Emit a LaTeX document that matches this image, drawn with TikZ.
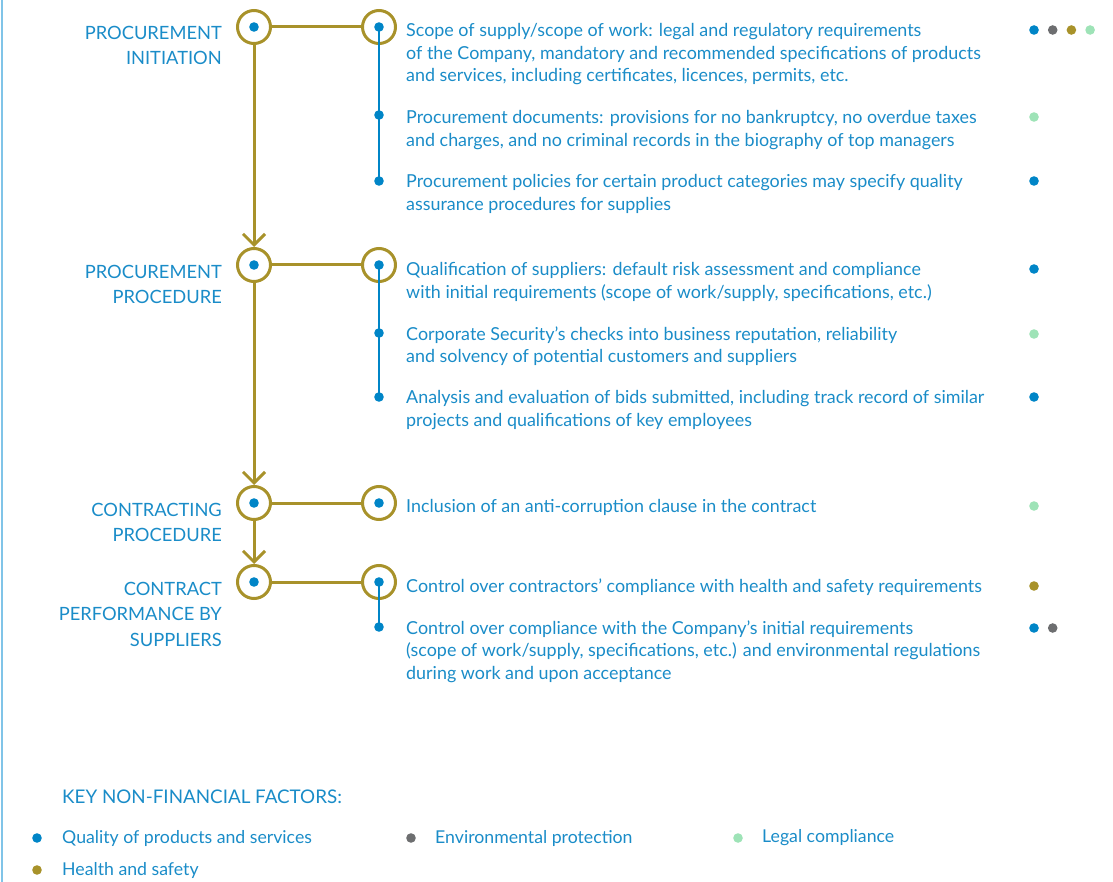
\documentclass[tikz,border=0pt]{standalone}
\usepackage{fontspec}
\setmainfont{Lato}
\usepackage{xcolor}
\usetikzlibrary{positioning,arrows.meta}
\definecolor{pblue}{HTML}{1A8CC8}
\definecolor{pdot}{HTML}{0085C7}
\definecolor{pgold}{HTML}{A8922A}
\definecolor{pgrey}{HTML}{6D6E70}
\definecolor{pgreen}{HTML}{9EE3B7}
\definecolor{pedge}{HTML}{80C4E8}
\tikzset{
  stage/.style={circle,draw=pgold,line width=3pt,minimum size=33pt,inner sep=0pt},
  stagetext/.style={anchor=north east,align=right,text=pblue,inner sep=0pt,
    font=\fontsize{18.3}{25.3}\selectfont},
  itemtext/.style={anchor=north west,align=left,text=pblue,inner sep=0pt,
    font=\fontsize{17.9}{22.5}\selectfont},
  keytext/.style={anchor=west,text=pblue,inner sep=0pt,font=\fontsize{17.7}{20}\selectfont},
  goldline/.style={draw=pgold,line width=3pt},
  goldarrow/.style={goldline,-{Straight Barb[length=11pt,width=22pt,line width=3pt]}},
  blueline/.style={draw=pdot,line width=2.4pt}
}
\begin{document}
\begin{tikzpicture}[x=1pt,y=-1pt]
\useasboundingbox (0,0) rectangle (1113,882);
\draw[pedge,line width=2pt] (2,0) -- (2,882);

\node[stage] (s1) at (254,27) {};
\node[stage] (s2) at (254,265) {};
\node[stage] (s3) at (254,503) {};
\node[stage] (s4) at (254,582) {};
\node[stage] (r1) at (379,27) {};
\node[stage] (r2) at (379,265) {};
\node[stage] (r3) at (379,503) {};
\node[stage] (r4) at (379,582) {};
\coordinate (d1b) at (379,115);
\coordinate (d1c) at (379,181);
\coordinate (d2b) at (379,333);
\coordinate (d2c) at (379,397);
\coordinate (d4b) at (379,627);

\draw[goldarrow] (s1) -- (s2);
\draw[goldarrow] (s2) -- (s3);
\draw[goldarrow] (s3) -- (s4);
\foreach \i in {1,2,3,4}
  \draw[goldline] (s\i) -- (r\i);
\draw[blueline] (r1.center) -- (d1c);
\draw[blueline] (r2.center) -- (d2c);
\draw[blueline] (r4.center) -- (d4b);
\foreach \p in {s1,s2,s3,s4,r1,r2,r3,r4,d1b,d1c,d2b,d2c,d4b}
  \fill[pdot] (\p) circle (4.8pt);

\node[stagetext] (l1) at (222,26) {PROCUREMENT\\INITIATION};
\node[stagetext] (l2) at (222,265) {PROCUREMENT\\PROCEDURE};
\node[stagetext] (l3) at (222,503) {CONTRACTING\\PROCEDURE};
\node[stagetext] (l4) at (222,582) {CONTRACT\\PERFORMANCE BY\\SUPPLIERS};

\node[itemtext] (t1a) at (406,23.5) {Scope of supply/scope of work: legal and regulatory requirements\\of the Company, mandatory and recommended specifications of products\\and services, including certificates, licences, permits, etc.};
\node[itemtext] (t1b) at (406,110.5) {Procurement documents: provisions for no bankruptcy, no overdue taxes\\and charges, and no criminal records in the biography of top managers};
\node[itemtext] (t1c) at (406,174.5) {Procurement policies for certain product categories may specify quality\\assurance procedures for supplies};
\node[itemtext] (t2a) at (406,262.5) {Qualification of suppliers: default risk assessment and compliance\\with initial requirements (scope of work/supply, specifications, etc.)};
\node[itemtext] (t2b) at (406,326.5) {Corporate Security’s checks into business reputation, reliability\\and solvency of potential customers and suppliers};
\node[itemtext] (t2c) at (406,390.5) {Analysis and evaluation of bids submitted, including track record of similar\\projects and qualifications of key employees};
\node[itemtext] (t3a) at (406,499.5) {Inclusion of an anti-corruption clause in the contract};
\node[itemtext] (t4a) at (406,578.5) {Control over contractors’ compliance with health and safety requirements};
\node[itemtext] (t4b) at (406,620.5) {Control over compliance with the Company’s initial requirements\\(scope of work/supply, specifications, etc.) and environmental regulations\\during work and upon acceptance};

\foreach \yy/\cols in {30/{pdot,pgrey,pgold,pgreen},117/{pgreen},181/{pdot},269/{pdot},
    334/{pgreen},397/{pdot},506/{pgreen},586/{pgold},628/{pdot,pgrey}}
  \foreach \c [count=\i from 0] in \cols
    \fill[\c] (1034+18.7*\i,\yy) circle (4.8pt);

\node[keytext,font=\fontsize{18.8}{20}\selectfont] (key) at (62,797) {KEY NON-FINANCIAL FACTORS:};
\node[keytext] (k1) at (62,838) {Quality of products and services};
\node[keytext] (k2) at (435,838) {Environmental protection};
\node[keytext] (k3) at (762,838) {Legal compliance};
\node[keytext] (k4) at (62,870) {Health and safety};
\fill[pdot] ([xshift=-25pt]k1.west) circle (4.8pt);
\fill[pgrey] ([xshift=-24pt]k2.west) circle (4.8pt);
\fill[pgreen] ([xshift=-24pt]k3.west) circle (4.8pt);
\fill[pgold] ([xshift=-25pt]k4.west) circle (4.8pt);
\end{tikzpicture}
\end{document}
